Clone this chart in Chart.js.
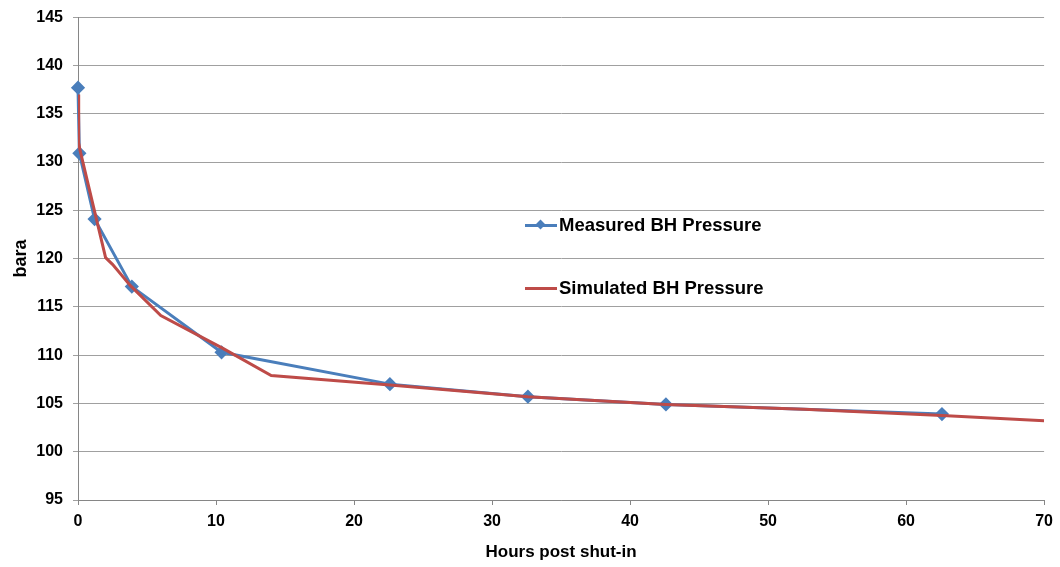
<!DOCTYPE html>
<html>
<head>
<meta charset="utf-8">
<script src="https://cdn.jsdelivr.net/npm/chart.js@4.4.1/dist/chart.umd.min.js"></script>
<style>
  html, body { margin: 0; padding: 0; background: #fff; }
  #wrap { position: relative; width: 1060px; height: 567px; }
  .leg { position: absolute; font-family: "Liberation Sans Narrow", "Liberation Sans", Arial, sans-serif;
         font-weight: bold; font-size: 18.5px; color: #000; display: flex; align-items: center; }
  .leg .sw { position: relative; width: 32px; height: 3px; margin-right: 2px; }
  .leg .dm { position: absolute; left: 12px; top: -3px; width: 7px; height: 7px; transform: rotate(45deg); }
</style>
</head>
<body>
<div id="wrap">
  <canvas id="mycanvas" width="1060" height="567"></canvas>
  <div class="leg" style="left:525px; top:214px;"><span class="sw" style="background:#4A7EBB"><span class="dm" style="background:#4A7EBB"></span></span>Measured BH Pressure</div>
  <div class="leg" style="left:525px; top:277px;"><span class="sw" style="background:#BE4B48"></span>Simulated BH Pressure</div>
</div>
<script>
// measured bottom-hole pressure
var measuredHours = [0, 0.1, 1.2, 3.9, 10.4, 22.6, 32.6, 42.6, 62.6];
var measuredBara  = [137.7, 130.9, 124.1, 117.1, 110.3, 107.0, 105.7, 104.9, 103.9];

// simulated bottom-hole pressure
var simHours = [0, 0.05, 0.15, 2.0, 2.5, 3.8, 6.0, 10.5, 14.0, 22.6, 32.6, 42.6, 52.6, 62.6, 70];
var simBara  = [137.0, 132.0, 131.2, 120.1, 119.4, 117.2, 114.1, 110.7, 107.9, 106.9, 105.7, 104.9, 104.4, 103.75, 103.2];

var xTicks = [0, 10, 20, 30, 40, 50, 60, 70];
var yMin = 95, yMax = 145, yStep = 5;

function toPts(xs, ys) {
    var out = [];
    for (var i in xs) {
        out.push({x: xs[i], y: ys[i]});
    }
    return out;
}

var fam = '"Liberation Sans Narrow", "Liberation Sans", Arial, sans-serif';
var tickFont = {family: fam, size: 16, weight: 'bold'};

var ctx = document.getElementById('mycanvas');
var chart = new Chart(ctx, {
    type: 'line',
    data: {
        datasets: [{
            label: 'Simulated BH Pressure',
            data: toPts(simHours, simBara),
            borderColor: '#BE4B48',
            borderWidth: 3,
            pointRadius: 0,
            tension: 0
        }, {
            label: 'Measured BH Pressure',
            data: toPts(measuredHours, measuredBara),
            borderColor: '#4A7EBB',
            backgroundColor: '#4A7EBB',
            borderWidth: 3,
            pointStyle: 'rectRot',
            pointRadius: 5,
            tension: 0,
            clip: false
        }]
    },
    options: {
        responsive: false,
        animation: false,
        layout: {padding: {left: 6, right: 14, top: 6, bottom: 0}},
        plugins: {legend: {display: false}, tooltip: {enabled: false}},
        scales: {
            x: {
                type: 'linear',
                min: 0, max: 70,
                afterBuildTicks: function(s) { s.ticks = xTicks.map(function(v) { return {value: v}; }); },
                afterFit: function(s) { s.height = 67; },
                border: {color: '#868686', width: 1},
                grid: {drawOnChartArea: false, drawTicks: true, tickLength: 5, color: '#868686'},
                ticks: {color: '#000', font: tickFont, padding: 7, maxRotation: 0},
                title: {display: true, text: 'Hours post shut-in', color: '#000', font: {family: fam, size: 17, weight: 'bold'}, padding: {top: 3}}
            },
            y: {
                min: yMin, max: yMax,
                ticks: {stepSize: yStep, color: '#000', font: {family: fam, size: 16, weight: 'bold', lineHeight: 0.9}, padding: 10},
                afterFit: function(s) { s.width = 72; },
                border: {color: '#868686', width: 1},
                grid: {color: '#A0A0A0', tickLength: 5},
                title: {display: true, text: 'bara', color: '#000', font: {family: fam, size: 18, weight: 'bold'}, padding: {bottom: 0}}
            }
        }
    }
});
</script>
</body>
</html>
